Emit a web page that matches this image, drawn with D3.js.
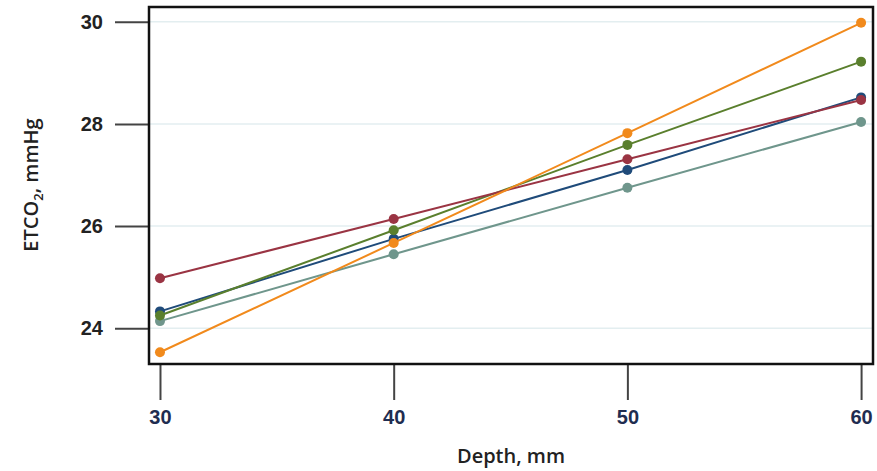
<!DOCTYPE html>
<html>
<head>
<meta charset="utf-8">
<script src="https://cdn.jsdelivr.net/npm/d3@7"></script>
<style>
  body { margin: 0; background: #fff; }
  svg { display: block; font-family: "Open Sans", "Noto Sans", sans-serif; }
</style>
</head>
<body>
<div id="chart"></div>
<script>
// data
var depths = [30, 40, 50, 60];
var yTicks = [24, 26, 28, 30];
var seriesNames = ["gray", "blue", "green", "red", "orange"];
var seriesColors = ["#6f968c", "#1f4b7a", "#5a7f2d", "#9a3443", "#f18a1c"];
var grayVals = [24.14, 25.45, 26.75, 28.04];
var blueVals = [24.33, 25.75, 27.1, 28.52];
var greenVals = [24.25, 25.92, 27.59, 29.22];
var redVals = [24.98, 26.14, 27.31, 28.47];
var orangeVals = [23.53, 25.67, 27.82, 29.98];
var allVals = [grayVals, blueVals, greenVals, redVals, orangeVals];

var w = 877, h = 471;
var pL = 149, pR = 873, pT = 7, pB = 364;

var x = d3.scaleLinear().domain([29.53, 60.51]).range([pL, pR]);
var y = d3.scaleLinear().domain([23.3, 30.29]).range([pB, pT]);

var svg = d3.select("#chart").append("svg")
  .attr("width", w).attr("height", h);

// light gridlines
svg.append("g").selectAll("line").data(yTicks).enter().append("line")
  .attr("x1", pL).attr("x2", pR)
  .attr("y1", d => y(d)).attr("y2", d => y(d))
  .attr("stroke", "#e3eef0").attr("stroke-width", 1.5);

// y axis, ticks outside the frame
var yAxis = svg.append("g")
  .attr("transform", "translate(" + pL + ",0)")
  .call(d3.axisLeft(y).tickValues(yTicks).tickSize(34).tickPadding(12).tickFormat(d3.format("d")));
yAxis.select(".domain").remove();
yAxis.selectAll(".tick line").attr("stroke", "#444").attr("stroke-width", 2);
yAxis.selectAll("text").attr("fill", "#222").style("font-size", "20px").style("font-weight", 600);

// x axis
var xAxis = svg.append("g")
  .attr("transform", "translate(0," + pB + ")")
  .call(d3.axisBottom(x).tickValues(depths).tickSize(36).tickPadding(10).tickFormat(d3.format("d")));
xAxis.select(".domain").remove();
xAxis.selectAll(".tick line").attr("stroke", "#444").attr("stroke-width", 2);
xAxis.selectAll("text").attr("fill", "#1f2d50").style("font-size", "20px").style("font-weight", 600);

// series
var line = d3.line().x((d, i) => x(depths[i])).y(d => y(d));
var groups = svg.append("g").selectAll("g").data(allVals).enter().append("g");
groups.append("path")
  .attr("d", d => line(d))
  .attr("fill", "none")
  .attr("stroke", (d, i) => seriesColors[i])
  .attr("stroke-width", 2);
groups.selectAll("circle").data((d, i) => d.map(v => ({ v: v, c: seriesColors[i] })))
  .enter().append("circle")
  .attr("cx", (d, i) => x(depths[i]))
  .attr("cy", d => y(d.v))
  .attr("r", 5)
  .attr("fill", d => d.c);

// frame
svg.append("rect")
  .attr("x", pL).attr("y", pT)
  .attr("width", pR - pL).attr("height", pB - pT)
  .attr("fill", "none").attr("stroke", "#111").attr("stroke-width", 2.5);

// axis titles
svg.append("text")
  .attr("x", 511).attr("y", 463)
  .attr("text-anchor", "middle")
  .style("font-size", "20px").style("font-weight", 600).attr("fill", "#222")
  .text("Depth, mm");

var yt = svg.append("text")
  .attr("transform", "translate(38,185) rotate(-90)")
  .attr("text-anchor", "middle")
  .style("font-size", "20px").style("font-weight", 600).attr("fill", "#222");
yt.append("tspan").text("ETCO");
yt.append("tspan").attr("dy", 5).style("font-size", "13px").text("2");
yt.append("tspan").attr("dy", -5).text(", mmHg");
</script>
</body>
</html>
